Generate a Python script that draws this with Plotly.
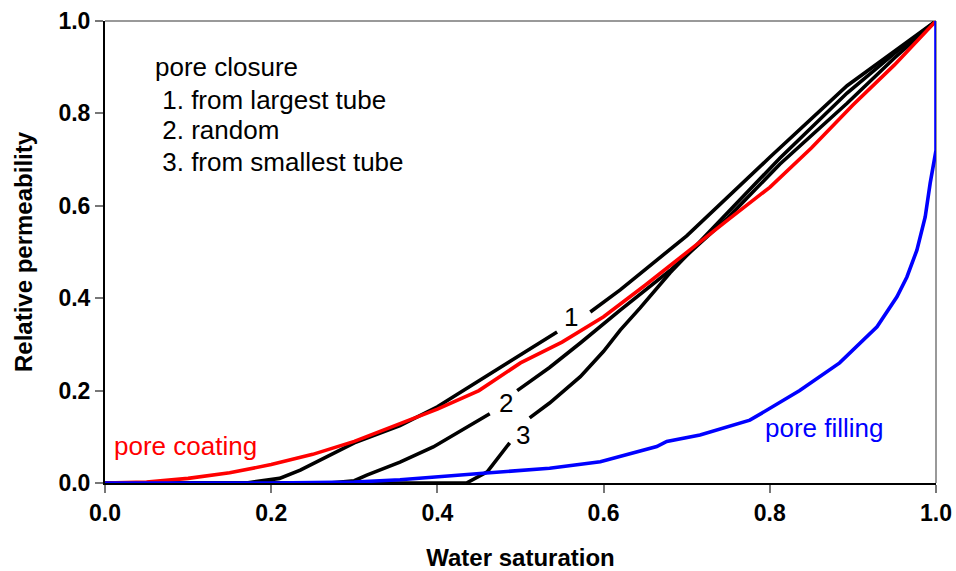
import plotly.graph_objects as go

# Relative permeability vs. water saturation for different pore-scale habits
red_sw = [0.0, 0.05, 0.1, 0.15, 0.2, 0.25, 0.3, 0.35, 0.4, 0.45, 0.5, 0.55, 0.6,
          0.65, 0.7, 0.75, 0.8, 0.85, 0.9, 0.95, 1.0]
red_kr = [0.0, 0.002, 0.01, 0.022, 0.04, 0.062, 0.09, 0.125, 0.16, 0.2, 0.26, 0.305,
          0.36, 0.428, 0.5, 0.57, 0.64, 0.725, 0.818, 0.905, 1.0]

blue_sw = [0.0, 0.2, 0.3, 0.355, 0.455, 0.535, 0.596, 0.664, 0.676, 0.716, 0.776,
           0.816, 0.836, 0.884, 0.929, 0.953, 0.965, 0.977, 0.987, 0.993, 0.999,
           1.0, 1.0]
blue_kr = [0.0, 0.0, 0.002, 0.007, 0.021, 0.032, 0.046, 0.079, 0.09, 0.104, 0.136,
           0.18, 0.2, 0.26, 0.338, 0.403, 0.446, 0.504, 0.576, 0.649, 0.706,
           0.72, 1.0]

# pore closure curves; None leaves room for the curve number
c1_sw = [0.0, 0.17, 0.21, 0.235, 0.3, 0.355, 0.4, 0.475, 0.544, None, 0.584, 0.62,
         0.7, 0.8, 0.893, 0.95, 1.0]
c1_kr = [0.0, 0.0, 0.01, 0.028, 0.087, 0.124, 0.165, 0.249, 0.327, None, 0.37, 0.418,
         0.535, 0.705, 0.86, 0.935, 1.0]

c2_sw = [0.0, 0.27, 0.3, 0.315, 0.355, 0.395, 0.463, None, 0.496, 0.535, 0.572, 0.62,
         0.68, 0.75, 0.812, 0.893, 0.95, 1.0]
c2_kr = [0.0, 0.0, 0.005, 0.017, 0.045, 0.078, 0.15, None, 0.2, 0.25, 0.303, 0.374,
         0.46, 0.575, 0.69, 0.822, 0.92, 1.0]

c3_sw = [0.0, 0.435, 0.46, 0.487, None, 0.511, 0.535, 0.572, 0.6, 0.62, 0.644, 0.68,
         0.728, 0.812, 0.893, 0.95, 1.0]
c3_kr = [0.0, 0.0, 0.024, 0.087, None, 0.141, 0.173, 0.23, 0.285, 0.331, 0.379, 0.455,
         0.545, 0.703, 0.844, 0.93, 1.0]

curve_tags = ["1", "2", "3"]
tag_sw = [0.561, 0.482, 0.503]
tag_kr = [0.36, 0.173, 0.104]

x_ticks = [0.0, 0.2, 0.4, 0.6, 0.8, 1.0]
y_ticks = [0.0, 0.2, 0.4, 0.6, 0.8, 1.0]

legend_lines = ["pore closure", "&nbsp;1. from largest tube", "&nbsp;2. random",
                "&nbsp;3. from smallest tube"]
legend_kr = [0.9, 0.829, 0.764, 0.695]

FONT = "Liberation Sans, Arial, sans-serif"
LW = 3.6

fig = go.Figure()
for sw, kr in [(c1_sw, c1_kr), (c2_sw, c2_kr), (c3_sw, c3_kr)]:
    fig.add_trace(go.Scatter(x=sw, y=kr, mode="lines", connectgaps=False,
                             line=dict(color="black", width=LW)))
fig.add_trace(go.Scatter(x=red_sw, y=red_kr, mode="lines",
                         line=dict(color="#ff0000", width=LW)))
fig.add_trace(go.Scatter(x=blue_sw, y=blue_kr, mode="lines",
                         line=dict(color="#0000ff", width=LW)))

annotations = []
for t, sx, ky in zip(curve_tags, tag_sw, tag_kr):
    annotations.append(dict(x=sx, y=ky, text=t, showarrow=False,
                            font=dict(family=FONT, size=26, color="black")))
for line, ky in zip(legend_lines, legend_kr):
    annotations.append(dict(x=0.058, y=ky, text=line, xanchor="left", showarrow=False,
                            font=dict(family=FONT, size=26, color="black")))
annotations.append(dict(x=0.008, y=0.08, text="pore coating", xanchor="left",
                        showarrow=False, font=dict(family=FONT, size=26, color="#ff0000")))
annotations.append(dict(x=0.792, y=0.119, text="pore filling", xanchor="left",
                        showarrow=False, font=dict(family=FONT, size=26, color="#0000ff")))

fig.update_layout(
    width=956, height=571,
    margin=dict(l=105, r=20, t=21, b=88),
    paper_bgcolor="white", plot_bgcolor="white",
    showlegend=False,
    annotations=annotations,
    shapes=[
        dict(type="line", xref="paper", yref="paper", x0=0, x1=1, y0=1, y1=1,
             layer="below", line=dict(color="#999999", width=2)),
        dict(type="line", xref="paper", yref="paper", x0=1, x1=1, y0=0, y1=1,
             layer="below", line=dict(color="#999999", width=2)),
    ],
)
fig.update_xaxes(
    range=[0, 1], tickvals=x_ticks, ticktext=[f"{v:.1f}" for v in x_ticks],
    automargin=False,
    showgrid=False, zeroline=False, showline=True, linecolor="black", linewidth=2,
    ticks="outside", ticklen=8, tickcolor="#777777", tickwidth=2,
    tickfont=dict(family=FONT, size=23, color="black", weight="bold"),
    title=dict(text="<b>Water saturation</b>", standoff=33,
               font=dict(family=FONT, size=24, color="black")),
)
fig.update_yaxes(
    range=[0, 1], tickvals=y_ticks, ticktext=[f"{v:.1f}" for v in y_ticks],
    automargin=False,
    showgrid=False, zeroline=False, showline=True, linecolor="black", linewidth=2,
    ticks="outside", ticklen=8, tickcolor="#777777", tickwidth=2,
    tickfont=dict(family=FONT, size=23, color="black", weight="bold"),
    title=dict(text="<b>Relative permeability</b>", standoff=19,
               font=dict(family=FONT, size=24, color="black")),
)

fig.write_html("out.html")
